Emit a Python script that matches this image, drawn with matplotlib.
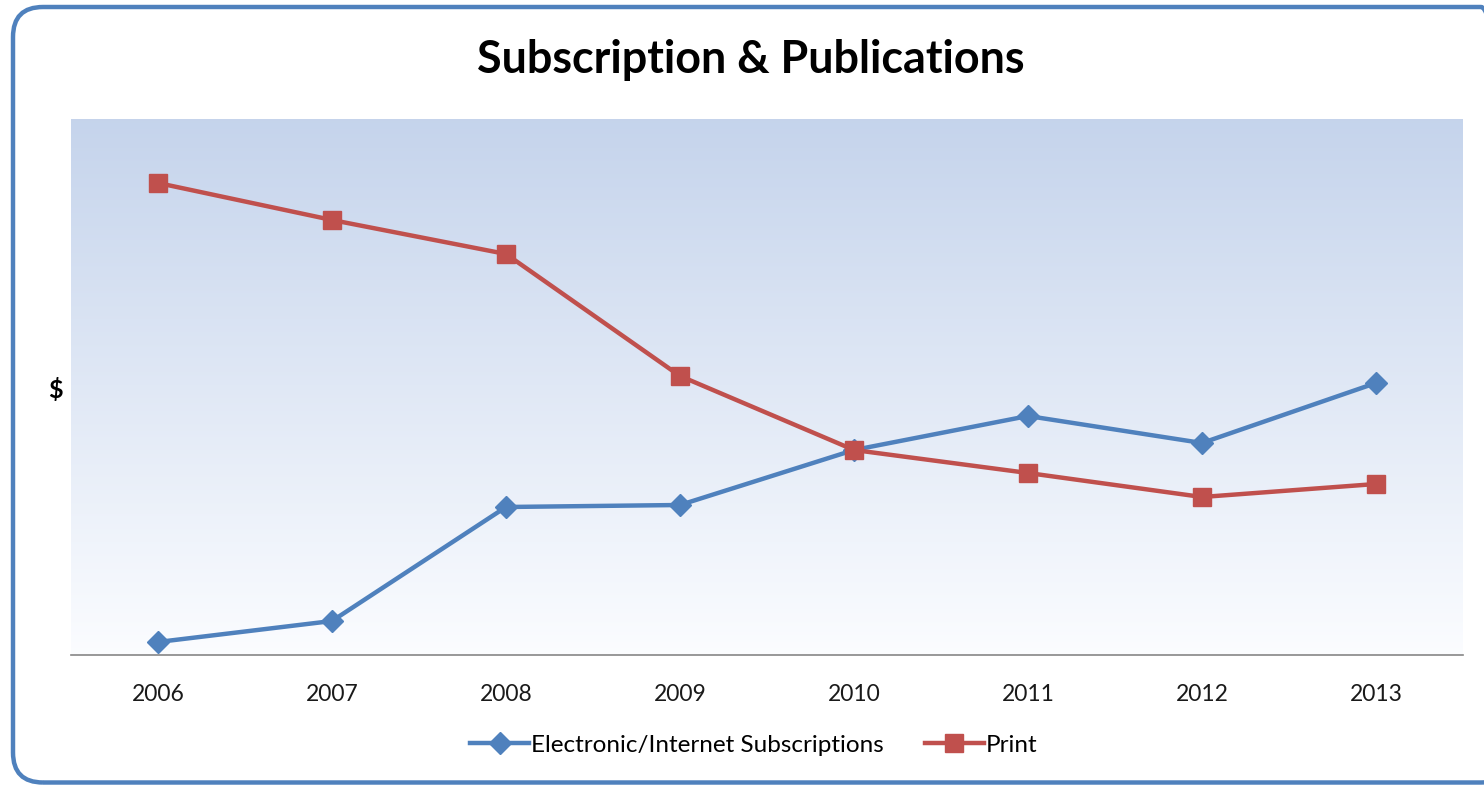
import numpy as np
import matplotlib.pyplot as plt
from matplotlib.patches import FancyBboxPatch
from matplotlib.lines import Line2D

plt.rcParams['font.family'] = ['Lato', 'DejaVu Sans']

# Data (no y scale shown in the original; values read off relative heights)
years = ['2006', '2007', '2008', '2009', '2010', '2011', '2012', '2013']
electronic = [13, 34, 148, 150, 205, 239, 212, 272]
print_vals = [472, 435, 401, 279, 205, 182, 158, 171]

blue = '#4F81BD'
red = '#C0504D'

fig = plt.figure(figsize=(14.84, 7.85), dpi=100)
W, H = 1484, 785

# rounded chart border in inches (right side runs off the image)
border = FancyBboxPatch((0.13, 0.025), 14.98, 7.755,
                        boxstyle='round,pad=0,rounding_size=0.3',
                        transform=fig.dpi_scale_trans, facecolor='none',
                        edgecolor=blue, linewidth=3.2)
fig.patches.append(border)

ax = fig.add_axes([71 / W, 1 - 655 / H, (1463 - 71) / W, (655 - 119) / H])
ax.set_facecolor('none')

# gradient plot area: light blue at top to near white at bottom
top = np.array([0.773, 0.831, 0.925])
bottom = np.array([0.985, 0.99, 1.0])
t = np.linspace(0, 1, 256)[:, None]
grad = (top * (1 - t) + bottom * t)[:, None, :]
ax.imshow(grad, extent=[0, 1, 0, 1], transform=ax.transAxes, aspect='auto',
          zorder=0)

x = np.arange(len(years))
ax.plot(x, electronic, color=blue, lw=3.2, marker='D', markersize=11,
        zorder=3)
ax.plot(x, print_vals, color=red, lw=3.2, marker='s', markersize=13,
        zorder=3)

ax.set_xlim(-0.5, len(years) - 0.5)
ax.set_ylim(0, 536)
ax.set_xticks(x)
ax.set_xticklabels(years, fontsize=16.5, color='#1a1a1a')
ax.tick_params(axis='x', length=0, pad=21)
ax.set_yticks([])
for s in ['top', 'right', 'left']:
    ax.spines[s].set_visible(False)
ax.spines['bottom'].set_color('#868686')
ax.spines['bottom'].set_linewidth(1.2)

fig.text(55 / W, 1 - 390 / H, '$', fontsize=18, fontweight='bold',
         ha='center', va='center')
fig.text(751 / W, 1 - 60 / H, 'Subscription & Publications', fontsize=32.3,
         fontweight='bold', ha='center', va='center')

handles = [Line2D([], [], color=blue, lw=3.2, marker='D', markersize=11),
           Line2D([], [], color=red, lw=3.2, marker='s', markersize=13)]
fig.legend(handles, ['Electronic/Internet Subscriptions', 'Print'],
           loc='center', bbox_to_anchor=(754 / W, 1 - 745 / H), ncol=2,
           frameon=False, fontsize=17.5, handlelength=2.4, handletextpad=0.1,
           columnspacing=1.7)

fig.savefig('out.png', dpi=100)
